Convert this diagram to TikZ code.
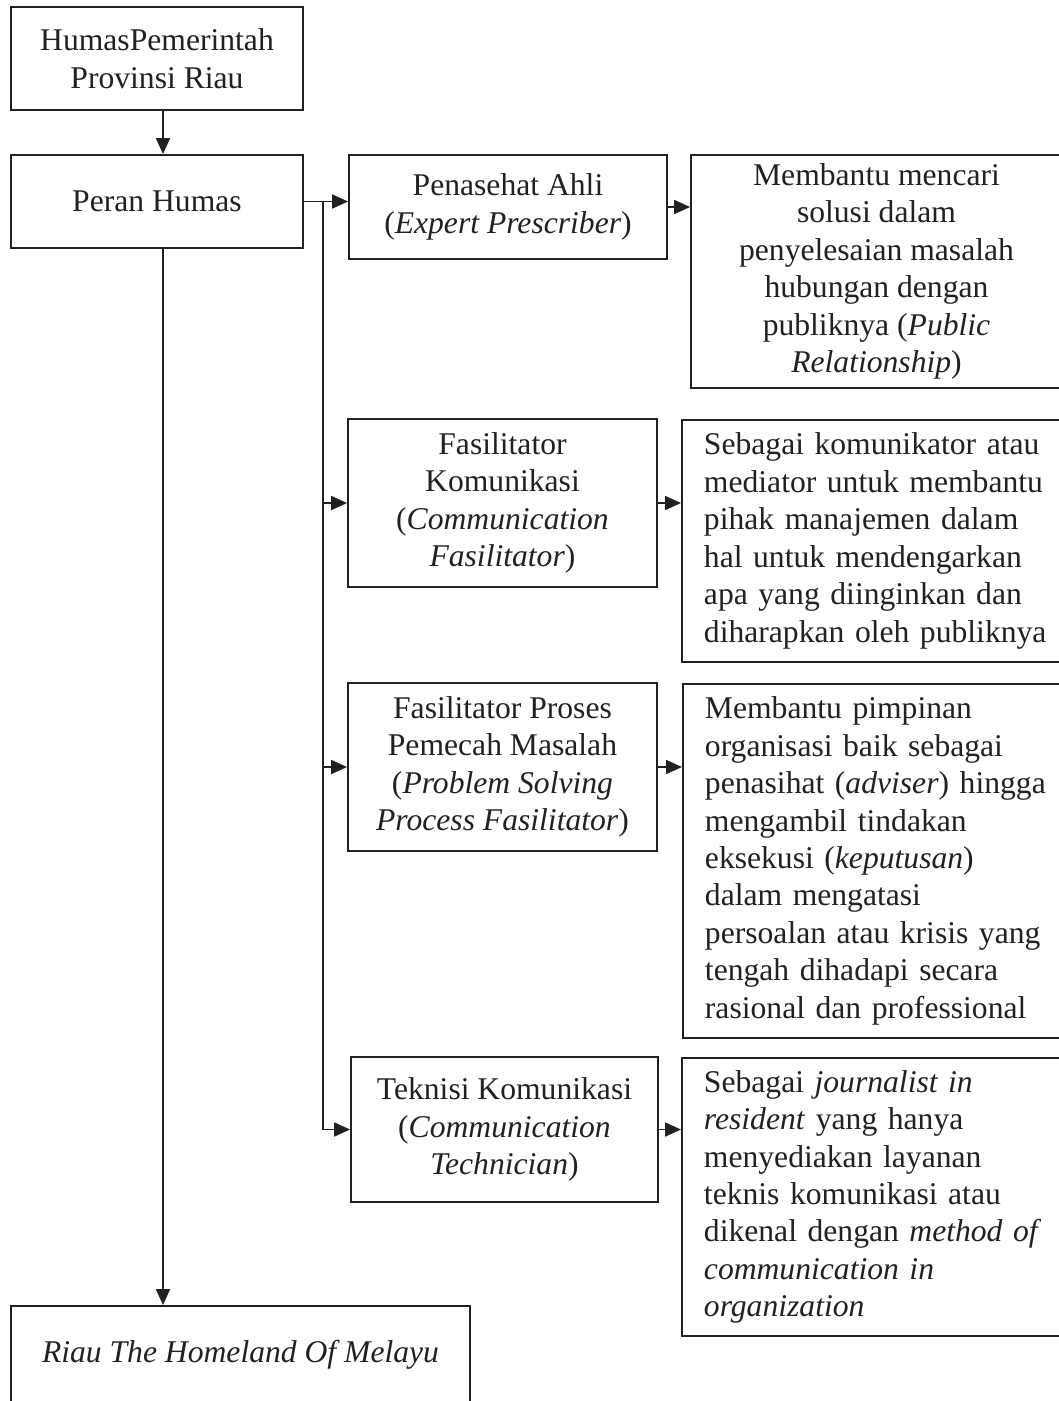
\documentclass[tikz,border=0pt]{standalone}
\usepackage{fontspec}
\setmainfont{Liberation Serif}
\usepackage{tikz}
\usetikzlibrary{arrows.meta}
\definecolor{inkgray}{rgb}{0.13,0.13,0.13}

\begin{document}
\begin{tikzpicture}[x=0.02cm,y=-0.02cm,
  every node/.style={font=\fontsize{18}{21.3}\selectfont, text=inkgray},
  box/.style={draw=inkgray, line width=1.1pt, align=center, inner sep=0pt},
  leftbox/.style={box, align=left, anchor=north west, inner xsep=0.44cm, text width=7.6cm},
  arr/.style={draw=inkgray, line width=1.1pt, -{Triangle[length=0.32cm,width=0.28cm]}}]

\useasboundingbox (0,0) rectangle (1059,1401);

\node[box, minimum width=5.84cm, minimum height=2.06cm] (humas) at (157,58.5) {HumasPemerintah\\Provinsi Riau};
\node[box, minimum width=5.84cm, minimum height=1.86cm] (peran) at (157,201.5) {Peran Humas};
\node[box, minimum width=9.18cm, minimum height=1.96cm] (riau) at (240.5,1355) {\textit{Riau The Homeland Of Melayu}};

\node[box, minimum width=6.36cm, minimum height=2.08cm] (ahli) at (508,207) {Penasehat Ahli\\(\textit{Expert Prescriber})};
\node[box, minimum width=6.18cm, minimum height=3.36cm] (fasil) at (502.5,503) {Fasilitator\\Komunikasi\\(\textit{Communication}\\\textit{Fasilitator})};
\node[box, minimum width=6.18cm, minimum height=3.36cm] (proses) at (502.5,767) {Fasilitator Proses\\Pemecah Masalah\\(\textit{Problem Solving}\\\textit{Process Fasilitator})};
\node[box, minimum width=6.14cm, minimum height=2.9cm] (teknisi) at (504.5,1129.5) {Teknisi Komunikasi\\(\textit{Communication}\\\textit{Technician})};

\node[box, minimum width=7.42cm, minimum height=4.66cm] (ahlitxt) at (876.5,271.5) {Membantu mencari\\solusi dalam\\penyelesaian masalah\\hubungan dengan\\publiknya (\textit{Public}\\\textit{Relationship})};
\node[leftbox, minimum height=4.84cm] (fasiltxt) at (681,419) {Sebagai komunikator atau\\mediator untuk membantu\\pihak manajemen dalam\\hal untuk mendengarkan\\apa yang diinginkan dan\\diharapkan oleh publiknya};
\node[leftbox, minimum height=7.08cm] (prosestxt) at (682,683) {Membantu pimpinan\\organisasi baik sebagai\\penasihat (\textit{adviser}) hingga\\mengambil tindakan\\eksekusi (\textit{keputusan})\\dalam mengatasi\\persoalan atau krisis yang\\tengah dihadapi secara\\rasional dan professional};
\node[leftbox, minimum height=5.56cm] (teknisitxt) at (681,1057) {Sebagai \textit{journalist in}\\\textit{resident} yang hanya\\menyediakan layanan\\teknis komunikasi atau\\dikenal dengan \textit{method of}\\\textit{communication in}\\\textit{organization}};

\coordinate (bus) at (323,201.5);

\draw[arr] ([xshift=0.12cm]humas.south) -- ([xshift=0.12cm]peran.north);
\draw[arr] ([xshift=0.12cm]peran.south) -- ([xshift=0.12cm]peran.south |- riau.north);
\draw[arr] (peran.east) -- (peran.east -| ahli.west);
\draw[arr] (bus) |- (fasil.west);
\draw[arr] (bus) |- (proses.west);
\draw[arr] (bus) |- (teknisi.west);

\draw[arr] (ahli.east) -- (ahli.east -| ahlitxt.west);
\draw[arr] (fasil.east) -- (fasil.east -| fasiltxt.west);
\draw[arr] (proses.east) -- (proses.east -| prosestxt.west);
\draw[arr] (teknisi.east) -- (teknisi.east -| teknisitxt.west);

\end{tikzpicture}
\end{document}
